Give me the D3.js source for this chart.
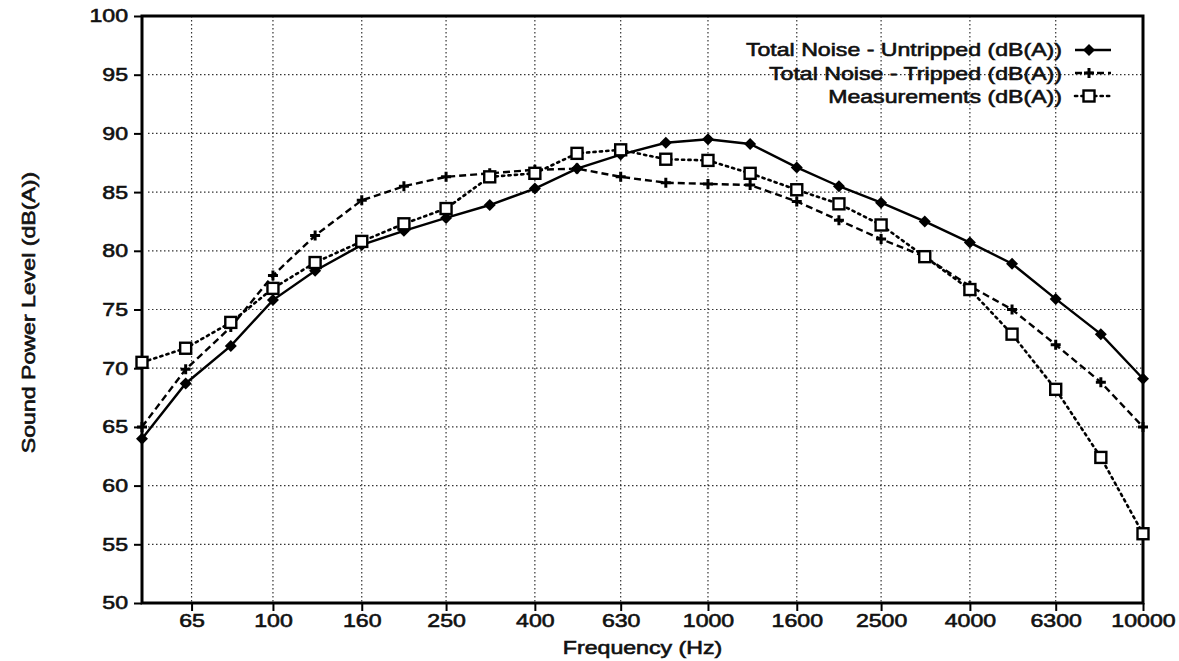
<!DOCTYPE html>
<html>
<head>
<meta charset="utf-8">
<script src="https://cdn.jsdelivr.net/npm/d3@7"></script>
<style>
  html, body { margin: 0; padding: 0; background: #fff; }
  svg { display: block; }
  text { font-family: "Liberation Sans", Arial, Helvetica, sans-serif; fill: #111; }
</style>
</head>
<body>
<svg id="chart" width="1179" height="661"></svg>
<script>
// One-third octave band centre frequencies (Hz)
const bands = [50, 63, 80, 100, 125, 160, 200, 250, 315, 400, 500, 630, 800,
               1000, 1250, 1600, 2000, 2500, 3150, 4000, 5000, 6300, 8000, 10000];

// Sound power levels, dB(A)
const untripped = [64.0, 68.7, 71.9, 75.8, 78.3, 80.5, 81.7, 82.8, 83.9, 85.3, 87.0, 88.2, 89.2,
                   89.5, 89.1, 87.1, 85.5, 84.1, 82.5, 80.7, 78.9, 75.9, 72.9, 69.1];
const tripped   = [65.0, 69.9, 73.5, 77.9, 81.3, 84.3, 85.5, 86.3, 86.6, 86.9, 87.0, 86.3, 85.8,
                   85.7, 85.6, 84.2, 82.6, 81.0, 79.5, 77.0, 75.0, 72.0, 68.8, 65.0];
const measured  = [70.5, 71.7, 73.9, 76.8, 79.0, 80.8, 82.3, 83.6, 86.3, 86.6, 88.3, 88.6, 87.8,
                   87.7, 86.6, 85.2, 84.0, 82.2, 79.5, 76.7, 72.9, 68.2, 62.4, 55.9];

// Axis tick labels
const xTicks = [65, 100, 160, 250, 400, 630, 1000, 1600, 2500, 4000, 6300, 10000];
const yTicks = [50, 55, 60, 65, 70, 75, 80, 85, 90, 95, 100];

const seriesNames = ["Total Noise - Untripped (dB(A))",
                     "Total Noise - Tripped (dB(A))",
                     "Measurements (dB(A))"];

const svg = d3.select("#chart");
const plot = { left: 142, right: 1143, top: 16, bottom: 603 };
const FS = 18.5;      // font size
const SX = 1.25;      // horizontal stretch of the lettering
const TW = 0.6;       // outline weight added to the lettering

const x = d3.scaleLog().domain([50, 10000]).range([plot.left, plot.right]);
const y = d3.scaleLinear().domain([50, 100]).range([plot.bottom, plot.top]);

// Grid
const grid = svg.append("g").attr("class", "grid")
  .attr("stroke", "#333").attr("stroke-width", 1.2)
  .attr("stroke-dasharray", "1.5,2.5").attr("fill", "none");
grid.selectAll("line.h").data(yTicks.filter(v => v > 50 && v < 100)).join("line")
  .attr("x1", plot.left + 6).attr("x2", plot.right)
  .attr("y1", d => y(d)).attr("y2", d => y(d));
grid.selectAll("line.v").data(xTicks.filter(v => v < 10000)).join("line")
  .attr("y1", plot.top).attr("y2", plot.bottom)
  .attr("x1", d => x(d)).attr("x2", d => x(d));

// Axes
const xAxis = d3.axisBottom(x).tickValues(xTicks).tickFormat(d3.format("d"))
  .tickSize(8).tickPadding(3);
const yAxis = d3.axisLeft(y).tickValues(yTicks).tickSize(8).tickPadding(6);

const gx = svg.append("g").attr("transform", `translate(0,${plot.bottom})`).call(xAxis);
const gy = svg.append("g").attr("transform", `translate(${plot.left},0)`).call(yAxis);

[gx, gy].forEach(g => {
  g.select(".domain").remove();
  g.selectAll(".tick line").attr("stroke", "#000").attr("stroke-width", 2);
  g.selectAll(".tick text")
    .attr("font-size", FS).attr("fill", "#111")
    .attr("stroke", "#111").attr("stroke-width", TW);
});
gx.selectAll(".tick text").attr("transform", `scale(${SX},1)`);
gy.selectAll(".tick text")
  .attr("x", -14 / SX).attr("transform", `scale(${SX},1)`);

// Frame
svg.append("rect")
  .attr("x", plot.left).attr("y", plot.top)
  .attr("width", plot.right - plot.left).attr("height", plot.bottom - plot.top)
  .attr("fill", "none").attr("stroke", "#000").attr("stroke-width", 3);

// Axis titles
svg.append("text")
  .attr("transform", `translate(${(plot.left + plot.right) / 2},654) scale(${SX},1)`)
  .attr("text-anchor", "middle").attr("font-size", FS)
  .attr("stroke", "#111").attr("stroke-width", TW)
  .text("Frequency (Hz)");
svg.append("text")
  .attr("transform", `translate(35,${(plot.top + plot.bottom) / 2 + 3}) rotate(-90) scale(${SX},1)`)
  .attr("text-anchor", "middle").attr("font-size", FS)
  .attr("stroke", "#111").attr("stroke-width", TW)
  .text("Sound Power Level (dB(A))");

// Series styling
const styles = [
  { values: untripped, dash: null,    marker: "diamond" },
  { values: tripped,   dash: "7,4",   marker: "plus" },
  { values: measured,  dash: "2.2,4.2", marker: "square" }
];

const line = d3.line().x(d => x(d.f)).y(d => y(d.v));

function drawMarker(g, kind, cx, cy) {
  if (kind === "diamond") {
    g.append("path")
      .attr("d", `M${cx},${cy - 6}L${cx + 6},${cy}L${cx},${cy + 6}L${cx - 6},${cy}Z`)
      .attr("fill", "#000");
  } else if (kind === "plus") {
    g.append("path")
      .attr("d", `M${cx - 5},${cy}L${cx + 5},${cy}M${cx},${cy - 5}L${cx},${cy + 5}`)
      .attr("stroke", "#000").attr("stroke-width", 3).attr("fill", "none");
  } else {
    g.append("rect")
      .attr("x", cx - 5.5).attr("y", cy - 5.5).attr("width", 11).attr("height", 11)
      .attr("fill", "#fff").attr("stroke", "#000").attr("stroke-width", 2.4);
  }
}

const seriesG = svg.append("g");
styles.forEach(s => {
  const pts = bands.map((f, i) => ({ f, v: s.values[i] }));
  const g = seriesG.append("g");
  g.append("path").datum(pts)
    .attr("d", line).attr("fill", "none")
    .attr("stroke", "#000").attr("stroke-width", s.marker === "square" ? 2.6 : 2.4)
    .attr("stroke-dasharray", s.dash)
    .attr("stroke-linecap", s.marker === "square" ? "round" : "butt");
  pts.forEach(p => drawMarker(g, s.marker, x(p.f), y(p.v)));
});

// Legend
const legend = svg.append("g");
const rows = [
  { baseline: 56, lineY: 50 },
  { baseline: 79.5, lineY: 73 },
  { baseline: 103, lineY: 96 }
];
rows.forEach((r, i) => {
  legend.append("text")
    .attr("transform", `translate(1062,${r.baseline}) scale(${SX},1)`)
    .attr("text-anchor", "end").attr("font-size", FS)
    .attr("stroke", "#111").attr("stroke-width", TW)
    .text(seriesNames[i]);
  legend.append("line")
    .attr("x1", 1075).attr("x2", 1111).attr("y1", r.lineY).attr("y2", r.lineY)
    .attr("stroke", "#000").attr("stroke-width", styles[i].marker === "square" ? 2.6 : 2.4)
    .attr("stroke-dasharray", styles[i].dash)
    .attr("stroke-linecap", styles[i].marker === "square" ? "round" : "butt");
  drawMarker(legend, styles[i].marker, 1089, r.lineY);
});
</script>
</body>
</html>
